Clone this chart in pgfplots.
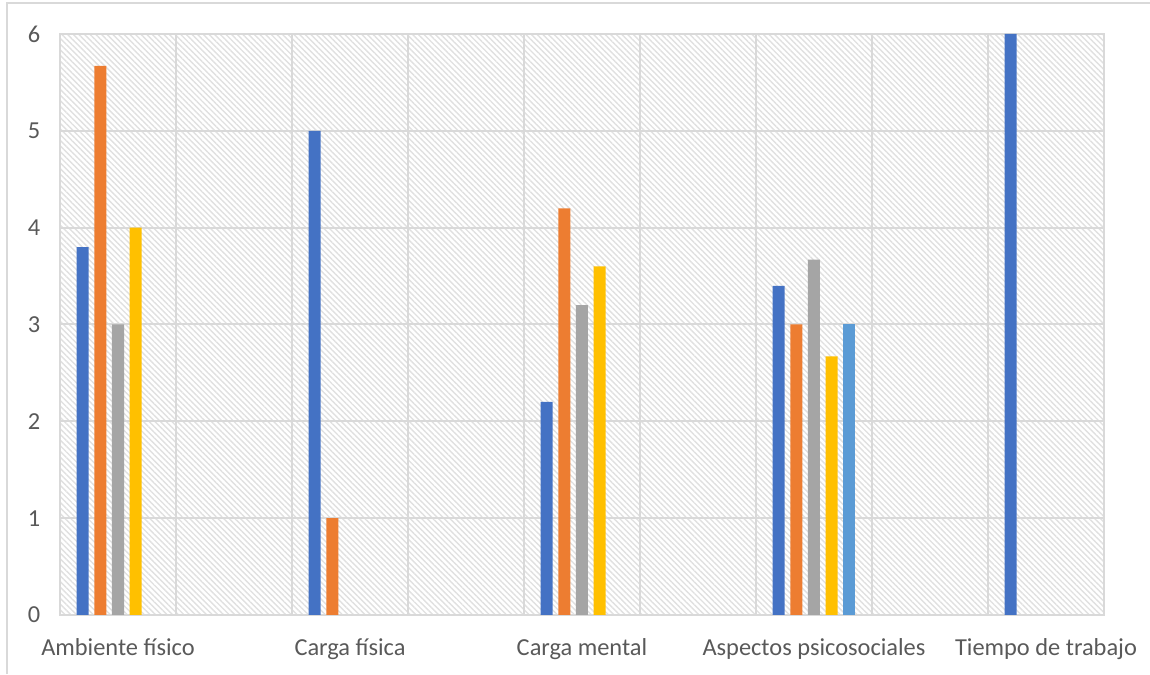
\documentclass[border=0pt]{standalone}
\usepackage{pgfplots}
\pgfplotsset{compat=1.18}
\usetikzlibrary{patterns.meta}
\usepackage{fontspec}
\setmainfont{Carlito}

\definecolor{s1}{HTML}{4472C4}
\definecolor{s2}{HTML}{ED7D31}
\definecolor{s3}{HTML}{A5A5A5}
\definecolor{s4}{HTML}{FFC000}
\definecolor{s5}{HTML}{5B9BD5}
\definecolor{txt}{HTML}{595959}
\definecolor{gridc}{HTML}{D9D9D9}
\definecolor{hatch}{HTML}{E0E0E0}

\begin{document}
\begin{tikzpicture}
\useasboundingbox (-30pt,-29.5pt) rectangle (545pt,307.5pt);
\begin{axis}[
  scale only axis, width=522pt, height=290.5pt,
  xmin=0.5, xmax=9.5, ymin=0, ymax=6,
  ybar=2.85pt, bar width=6pt,
  xtick={1,3,5,7,9},
  xticklabels={Ambiente físico, Carga física, Carga mental, Aspectos psicosociales, Tiempo de trabajo},
  minor xtick={0.5,1.5,...,9.5},
  ytick={0,1,...,6},
  xminorgrids, ymajorgrids,
  grid style={gridc, line width=1pt},
  minor grid style={gridc, line width=1pt},
  major tick length=0pt, minor tick length=0pt,
  axis line style={gridc, line width=1pt},
  tick label style={font=\fontsize{12.2pt}{14pt}\selectfont, text=txt},
  /pgf/number format/assume math mode=true,
  axis background/.style={pattern={Lines[angle=-45,distance=2pt,line width=0.7pt]}, pattern color=hatch},
  yticklabel style={xshift=-6.4pt},
  xticklabel style={anchor=base, yshift=-20pt},
]
\addplot[fill=s1, draw=none] coordinates {(1,3.8) (3,5) (5,2.2) (7,3.4) (9,6)};
\addplot[fill=s2, draw=none] coordinates {(1,5.67) (3,1) (5,4.2) (7,3)};
\addplot[fill=s3, draw=none] coordinates {(1,3) (5,3.2) (7,3.67)};
\addplot[fill=s4, draw=none] coordinates {(1,4) (5,3.6) (7,2.67)};
\addplot[fill=s5, draw=none] coordinates {(7,3)};
\end{axis}
\draw[gridc, line width=1pt] (-26.5pt,-29.5pt) -- (-26.5pt,306pt) -- (545pt,306pt);
\end{tikzpicture}
\end{document}
